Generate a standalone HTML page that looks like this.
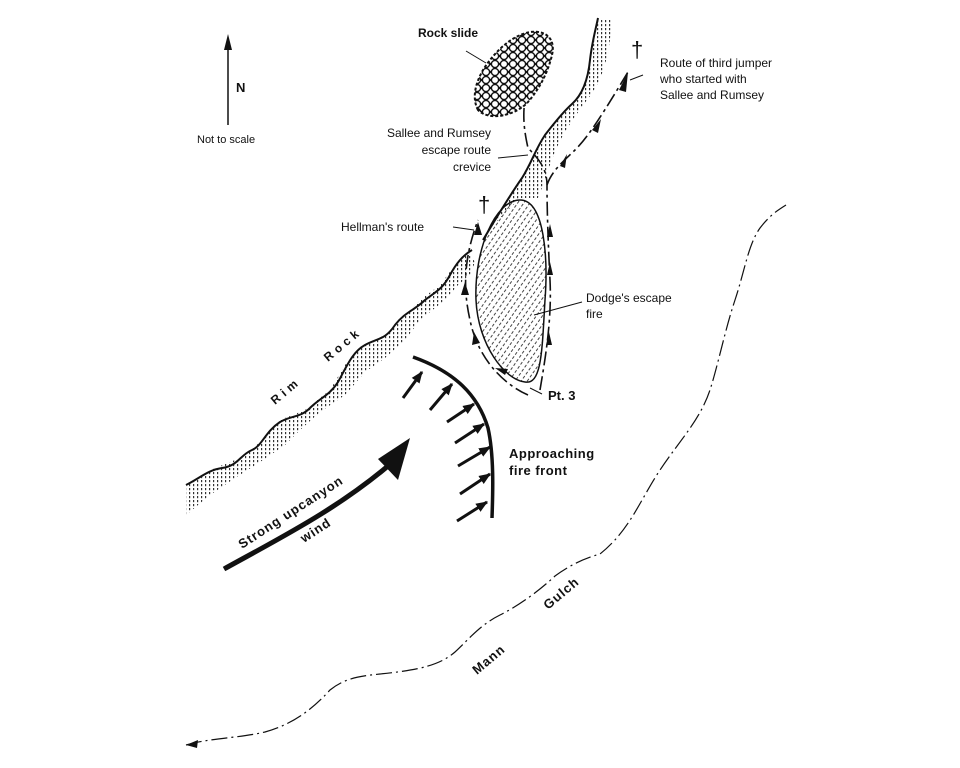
<!DOCTYPE html>
<html><head><meta charset="utf-8"><style>
body{margin:0;background:#fff}
svg{display:block}
text{font-family:"Liberation Sans",Arial,sans-serif;fill:#111}
</style></head><body>
<svg width="960" height="768" viewBox="0 0 960 768" xmlns="http://www.w3.org/2000/svg">
<defs>
<pattern id="dots" width="4" height="4" patternUnits="userSpaceOnUse">
<rect x="1" y="0" width="1.2" height="2.2" fill="#333"/>
</pattern>
<pattern id="hatch" width="5" height="5" patternUnits="userSpaceOnUse" patternTransform="rotate(-55)">
<rect x="0" y="0" width="3" height="1" fill="#444"/>
</pattern>
<pattern id="rocks" width="9" height="8" patternUnits="userSpaceOnUse">
<circle cx="4.5" cy="4" r="3.6" fill="#fff" stroke="#111" stroke-width="1.4"/>
<circle cx="0" cy="0" r="3.6" fill="#fff" stroke="#111" stroke-width="1.4"/>
<circle cx="9" cy="0" r="3.6" fill="#fff" stroke="#111" stroke-width="1.4"/>
<circle cx="0" cy="8" r="3.6" fill="#fff" stroke="#111" stroke-width="1.4"/>
<circle cx="9" cy="8" r="3.6" fill="#fff" stroke="#111" stroke-width="1.4"/>
</pattern>
<marker id="ah" viewBox="0 0 10 10" refX="9" refY="5" markerWidth="4" markerHeight="4" orient="auto"><path d="M0,1 L10,5 L0,9 Z" fill="#111"/></marker>
</defs>

<!-- North arrow -->
<line x1="228" y1="125" x2="228" y2="38" stroke="#111" stroke-width="1.5"/>
<path d="M224,50 L228,34 L232,50 Z" fill="#111"/>
<text x="236" y="92" font-size="13" font-weight="bold">N</text>
<text x="197" y="143" font-size="11">Not to scale</text>

<!-- Rim rock lower band -->
<path d="M186,485 L215,468 245,456 262,440 280,420 305,410 330,390 345,365 362,346 385,335 400,320 420,300 440,285 455,265 468,252 L475,262 470,275 L458,285 445,300 420,320 405,340 385,358 365,372 345,395 320,412 300,430 285,445 260,462 235,478 210,495 186,515 Z" fill="url(#dots)"/>
<path d="M186,485 C200,478 208,470 222,468 C238,466 240,455 252,450 C262,446 265,432 280,422 C292,415 300,418 310,408 C320,398 330,395 338,382 C346,368 352,352 365,345 C378,338 385,340 395,325 C405,312 415,310 425,300 C435,292 442,290 450,275 C456,264 462,256 472,250" fill="none" stroke="#111" stroke-width="2"/>
<!-- upper band -->
<path d="M488,230 C500,212 510,195 522,178 C532,162 535,150 545,135 C555,122 563,112 572,104 C582,95 588,80 590,60 C592,42 596,28 598,18 L612,20 C610,45 606,75 590,96 C578,112 566,128 558,145 C550,162 546,178 538,198 L520,198 Z" fill="url(#dots)"/>
<path d="M483,240 C495,220 510,195 522,178 C532,162 535,150 545,135 C555,122 563,112 572,104 C582,95 588,80 590,60 C592,42 596,28 598,18" fill="none" stroke="#111" stroke-width="2"/>

<!-- Dodge fire -->
<path d="M520,200 C545,200 548,260 545,300 C542,350 542,385 525,382 C505,380 478,345 476,300 C474,250 495,200 520,200Z" fill="url(#hatch)" stroke="#111" stroke-width="1.5"/>

<!-- routes -->
<g fill="none" stroke="#111" stroke-width="1.6" stroke-dasharray="14,4,3,4">
<path d="M528,395 C505,385 478,360 470,320 C462,285 465,255 478,220"/>
<path d="M540,390 C545,360 552,320 550,280 C548,240 547,210 547,185 C547,170 540,160 528,148 C524,130 522,115 526,92"/>
<path d="M547,185 C552,170 565,160 575,150 C590,135 605,110 628,72"/>
</g>
<g fill="#111">
<path d="M474,235 L478,222 L482,235Z"/>
<path d="M461,295 L465,282 L469,295Z"/>
<path d="M472,345 L474,332 L480,343Z"/>
<path d="M505,375 L495,368 L508,369Z"/>
<path d="M546,345 L549,332 L552,345Z"/>
<path d="M547,275 L550,262 L553,275Z"/>
<path d="M547,237 L550,224 L553,237Z"/>
<path d="M523,97 L526,84 L529,97Z"/>
<path d="M560,166 L567,154 L565,168Z"/>
<path d="M592,130 L601,119 L598,133Z"/>
<path d="M619,90 L628,72 L626,92Z"/>
</g>

<!-- rock slide -->
<path d="M478,110 C470,95 478,75 490,60 C502,45 515,35 530,32 C545,30 556,38 552,55 C548,72 540,88 528,102 C516,115 490,122 478,110Z" fill="url(#rocks)" stroke="#111" stroke-width="2" stroke-dasharray="3,2"/>
<text x="418" y="37" font-size="12" font-weight="bold">Rock slide</text>
<line x1="466" y1="51" x2="486" y2="63" stroke="#111"/>

<text x="478" y="212" font-size="22">†</text>
<text x="631" y="57" font-size="22">†</text>

<text x="491" y="137" font-size="12" text-anchor="end">Sallee and Rumsey</text>
<text x="491" y="154" font-size="12" text-anchor="end">escape route</text>
<text x="491" y="171" font-size="12" text-anchor="end">crevice</text>
<line x1="498" y1="158" x2="528" y2="155" stroke="#111"/>

<text x="341" y="231" font-size="12">Hellman's route</text>
<line x1="453" y1="227" x2="474" y2="230" stroke="#111"/>

<text x="660" y="67" font-size="12">Route of third jumper</text>
<text x="660" y="83" font-size="12">who started with</text>
<text x="660" y="99" font-size="12">Sallee and Rumsey</text>
<line x1="630" y1="80" x2="643" y2="75" stroke="#111"/>

<text x="586" y="302" font-size="12">Dodge's escape</text>
<text x="586" y="318" font-size="12">fire</text>
<line x1="582" y1="302" x2="534" y2="315" stroke="#111"/>

<line x1="530" y1="388" x2="542" y2="394" stroke="#111"/>
<text x="548" y="400" font-size="13" font-weight="bold">Pt. 3</text>

<text x="509" y="458" font-size="13" font-weight="bold" letter-spacing="0.5">Approaching</text>
<text x="509" y="475" font-size="13" font-weight="bold" letter-spacing="0.5">fire front</text>

<text transform="translate(275,405) rotate(-40)" font-size="12" font-weight="bold" letter-spacing="4">Rim</text>
<text transform="translate(328,362) rotate(-40)" font-size="12" font-weight="bold" letter-spacing="4">Rock</text>

<!-- fire front -->
<path d="M413,357 C455,372 478,395 488,428 C494,455 493,490 492,518" fill="none" stroke="#111" stroke-width="3.5"/>
<g stroke="#111" stroke-width="3" marker-end="url(#ah)">
<line x1="403" y1="398" x2="422" y2="372"/>
<line x1="430" y1="410" x2="452" y2="384"/>
<line x1="447" y1="422" x2="474" y2="404"/>
<line x1="455" y1="443" x2="484" y2="424"/>
<line x1="458" y1="466" x2="490" y2="447"/>
<line x1="460" y1="494" x2="490" y2="474"/>
<line x1="457" y1="521" x2="487" y2="502"/>
</g>

<!-- wind arrow -->
<path d="M224,569 C280,538 340,508 395,460" fill="none" stroke="#111" stroke-width="5"/>
<path d="M378,459 L410,438 L398,480 Z" fill="#111"/>
<text transform="translate(242,549) rotate(-33)" font-size="13" font-weight="bold" letter-spacing="1">Strong upcanyon</text>
<text transform="translate(304,543) rotate(-33)" font-size="13" font-weight="bold" letter-spacing="1">wind</text>

<!-- Mann Gulch -->
<path d="M186,745 C210,738 240,738 265,732 C290,725 310,712 330,690 C345,678 360,676 380,674 C420,670 440,665 455,652 C470,638 480,625 500,615 C520,605 540,590 555,576 C570,565 585,558 600,554 C630,530 640,500 660,470 C680,440 700,420 710,390 C718,365 725,330 735,300 C745,270 748,245 760,228 C770,215 778,210 786,205" fill="none" stroke="#111" stroke-width="1.2" stroke-dasharray="16,4,2,4"/>
<path d="M186,745 L198,740 L197,748 Z" fill="#111"/>
<text transform="translate(477,675) rotate(-40)" font-size="13" font-weight="bold" letter-spacing="1">Mann</text>
<text transform="translate(548,610) rotate(-40)" font-size="13" font-weight="bold" letter-spacing="1">Gulch</text>
</svg>
</body></html>
